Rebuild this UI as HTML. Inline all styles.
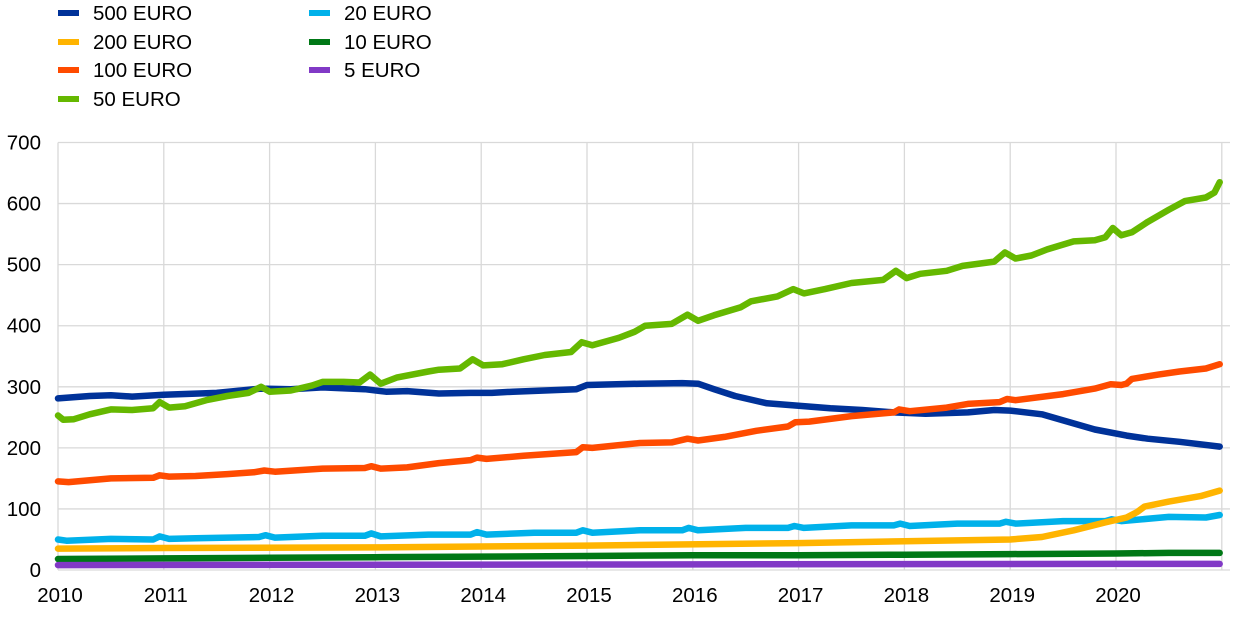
<!DOCTYPE html>
<html><head><meta charset="utf-8"><style>
body{margin:0;background:#fff;width:1240px;height:616px;overflow:hidden;font-family:"Liberation Sans",Arial,sans-serif}
svg text{font-family:"Liberation Sans",Arial,sans-serif;font-size:20.5px;fill:#000}
</style></head><body>
<svg id="s" width="1240" height="616" xmlns="http://www.w3.org/2000/svg">
<g id="grid" stroke="#d9d9d9" stroke-width="1.3"></g>
<g id="lines" fill="none" stroke-width="6.5" stroke-linejoin="round" stroke-linecap="round"></g>
<g id="labels"></g>
<g id="legend">
<rect x="58" y="10" width="21" height="6" fill="#003299"/><text x="93" y="20">500 EURO</text>
<rect x="58" y="39" width="21" height="6" fill="#FFB400"/><text x="93" y="49">200 EURO</text>
<rect x="58" y="67" width="21" height="6" fill="#FF4B00"/><text x="93" y="77">100 EURO</text>
<rect x="58" y="96" width="21" height="6" fill="#65B800"/><text x="93" y="106">50 EURO</text>
<rect x="309" y="10" width="21" height="6" fill="#00B1EA"/><text x="344" y="20">20 EURO</text>
<rect x="309" y="39" width="21" height="6" fill="#007816"/><text x="344" y="49">10 EURO</text>
<rect x="309" y="67" width="21" height="6" fill="#8139C6"/><text x="344" y="77">5 EURO</text>
</g>
</svg>
<script>
var X0=58,XS=105.8,Y0=570,YS=0.6107;
function X(t){return X0+(t-2010)*XS}function Y(v){return Y0-v*YS}
var ns="http://www.w3.org/2000/svg";
var g=document.getElementById('grid'),lb=document.getElementById('labels');
function el(p,tag,a,txt){var e=document.createElementNS(ns,tag);for(var k in a)e.setAttribute(k,a[k]);if(txt)e.textContent=txt;p.appendChild(e);return e}
for(var v=0;v<=700;v+=100){el(g,'line',{x1:X0,x2:1230,y1:Y(v),y2:Y(v)});el(lb,'text',{x:41,y:Y(v)+7,'text-anchor':'end'},String(v))}
for(var yr=2010;yr<=2021;yr++){var x=X(yr);if(x<1232)el(g,'line',{x1:x,x2:x,y1:Y(700),y2:Y0});if(yr<=2020)el(lb,'text',{x:x+2,y:602,'text-anchor':'middle'},String(yr))}
var S={
"#00B1EA":[[2010,50],[2010.08,48],[2010.5,51],[2010.9,50],[2010.96,55],[2011.05,51],[2011.3,52],[2011.9,54],[2011.96,57],[2012.05,53],[2012.5,56],[2012.9,56],[2012.96,60],[2013.05,55],[2013.5,58],[2013.9,58],[2013.96,62],[2014.05,58],[2014.5,61],[2014.9,61],[2014.96,65],[2015.05,61],[2015.5,65],[2015.9,65],[2015.96,69],[2016.05,65],[2016.5,69],[2016.9,69],[2016.96,72],[2017.05,69],[2017.5,73],[2017.9,73],[2017.96,76],[2018.05,72],[2018.5,76],[2018.9,76],[2018.96,79],[2019.05,76],[2019.5,80],[2019.9,80],[2019.96,83],[2020.05,80],[2020.5,87],[2020.85,86],[2020.98,90]],
"#FFB400":[[2010,35],[2011,36],[2013,37],[2015,40],[2017,44],[2018,47],[2019,50],[2019.3,54],[2019.6,65],[2019.9,78],[2020.1,86],[2020.2,95],[2020.27,104],[2020.5,112],[2020.8,121],[2020.98,130]],
"#007816":[[2010,18],[2011,19],[2012,20],[2013,21],[2014,22],[2015,23],[2016,24],[2017,24],[2018,25],[2019,26],[2020,27],[2020.5,28],[2020.98,28]],
"#8139C6":[[2010,8],[2015,9],[2020,10],[2020.98,10]],
"#003299":[[2010,281],[2010.3,285],[2010.5,286],[2010.7,284],[2011,287],[2011.5,290],[2011.92,297],[2012.2,296],[2012.5,299],[2012.9,296],[2013.1,292],[2013.3,293],[2013.6,289],[2013.9,290],[2014.1,290],[2014.3,292],[2014.6,294],[2014.9,296],[2015,303],[2015.5,305],[2015.9,306],[2016.05,305],[2016.2,296],[2016.4,285],[2016.7,273],[2017,269],[2017.3,265],[2017.6,262],[2017.9,258],[2018.2,256],[2018.6,258],[2018.85,262],[2019,261],[2019.3,255],[2019.5,245],[2019.8,230],[2020.1,220],[2020.3,215],[2020.6,210],[2020.98,202]],
"#FF4B00":[[2010,145],[2010.1,144],[2010.5,150],[2010.9,151],[2010.96,155],[2011.05,153],[2011.3,154],[2011.6,157],[2011.85,160],[2011.95,163],[2012.05,161],[2012.5,166],[2012.9,167],[2012.96,170],[2013.05,166],[2013.3,168],[2013.6,175],[2013.9,180],[2013.96,184],[2014.05,182],[2014.4,187],[2014.9,193],[2014.96,201],[2015.05,200],[2015.5,208],[2015.8,209],[2015.95,215],[2016.05,212],[2016.3,218],[2016.6,228],[2016.9,235],[2016.97,242],[2017.1,243],[2017.5,252],[2017.9,258],[2017.95,263],[2018.05,260],[2018.4,266],[2018.6,272],[2018.9,275],[2018.97,280],[2019.05,278],[2019.5,288],[2019.8,297],[2019.95,304],[2020.05,303],[2020.1,305],[2020.15,313],[2020.4,320],[2020.6,325],[2020.85,330],[2020.98,337]],
"#65B800":[[2010,253],[2010.05,246],[2010.15,247],[2010.3,255],[2010.5,263],[2010.7,262],[2010.9,265],[2010.96,275],[2011.05,266],[2011.2,268],[2011.4,278],[2011.6,285],[2011.8,290],[2011.92,300],[2012.0,292],[2012.2,294],[2012.4,302],[2012.5,308],[2012.7,308],[2012.85,307],[2012.95,320],[2013.05,305],[2013.2,315],[2013.5,325],[2013.6,328],[2013.8,330],[2013.92,345],[2014.02,335],[2014.2,337],[2014.4,345],[2014.6,352],[2014.85,357],[2014.95,373],[2015.05,368],[2015.3,380],[2015.45,390],[2015.55,400],[2015.8,403],[2015.95,418],[2016.05,408],[2016.2,417],[2016.45,430],[2016.55,440],[2016.8,448],[2016.95,460],[2017.05,453],[2017.25,460],[2017.5,470],[2017.8,475],[2017.92,490],[2018.02,478],[2018.15,485],[2018.4,490],[2018.55,498],[2018.85,505],[2018.95,520],[2019.05,510],[2019.2,515],[2019.35,525],[2019.6,538],[2019.8,540],[2019.9,545],[2019.97,560],[2020.05,548],[2020.15,553],[2020.3,570],[2020.5,590],[2020.65,604],[2020.85,610],[2020.93,618],[2020.98,635]]
};
var L=document.getElementById('lines');
for(var c in S){var d=S[c].map(function(p,i){return (i?'L':'M')+X(p[0]).toFixed(1)+' '+Y(p[1]).toFixed(1)}).join('');el(L,'path',{d:d,stroke:c})}
</script>
</body></html>
